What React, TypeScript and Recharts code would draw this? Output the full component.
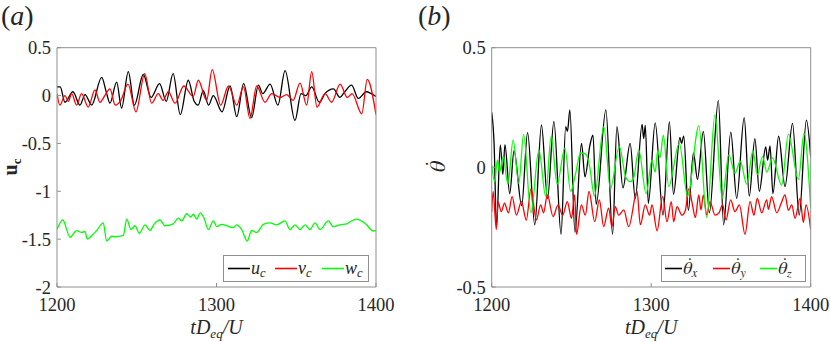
import { LineChart, Line, XAxis, YAxis } from "recharts";

// time axis (t D_eq / U)
const timeTicks = [1200, 1300, 1400];

// panel (a): centroid velocity components, [t, value] read at peaks/troughs
const uC: [number, number][] = [
  [1200, 0.09], [1202, 0.09], [1205, -0.07], [1210, 0.04], [1214.4, -0.1], [1217.6, 0.01], [1221.7, -0.1],
  [1228, 0.19], [1231, 0.03], [1233.2, -0.08], [1237.4, 0.14], [1240.5, -0.13], [1244.7, 0.25], [1248.5, -0.1],
  [1254.1, 0.22], [1259, -0.02], [1264.3, 0.125], [1268.5, -0.06], [1272.8, 0.23], [1277.3, -0.2], [1282.3, 0.16],
  [1286, -0.06], [1288.5, -0.1], [1291.7, 0.05], [1295, -0.1], [1298, 0], [1303.5, -0.17], [1308.5, 0.1],
  [1312.7, -0.22], [1317, 0.125], [1322, -0.23], [1326.3, 0.11], [1329, 0.02], [1333.6, 0.12], [1338.5, -0.1],
  [1343, 0.26], [1349.2, -0.26], [1353, 0.02], [1356, 0], [1359.7, 0.09], [1364.5, -0.07], [1368, 0.02],
  [1373.3, 0.07], [1377.4, -0.02], [1380, 0.03], [1384.7, 0.11], [1388.9, -0.03], [1394, 0.04], [1397, 0.02],
  [1400, -0.01],
];
const vC: [number, number][] = [
  [1200, 0.02], [1201.8, -0.1], [1205, 0], [1207.1, -0.06], [1209.2, 0.02], [1212.3, -0.1], [1215.4, 0.02],
  [1219.6, -0.12], [1223.8, 0.06], [1226.9, -0.07], [1230, 0], [1233.2, 0.07], [1236.5, -0.1], [1240, -0.05],
  [1244.5, 0.12], [1249.5, -0.17], [1255, 0.23], [1259.3, -0.08], [1263.5, 0.02], [1266.5, -0.05], [1269.8, 0.04],
  [1274, -0.08], [1279.5, 0.1], [1285.4, -0.01], [1288.6, 0.16], [1293.8, -0.05], [1297.3, 0.27], [1302.6, -0.1],
  [1307.5, 0.1], [1312.7, -0.1], [1316.9, 0.09], [1321, -0.24], [1325.2, 0.1], [1330.4, -0.07], [1334.6, 0.02],
  [1339.9, -0.02], [1344, 0.01], [1348, -0.05], [1352.4, 0.13], [1356.5, -0.1], [1359.7, 0.25], [1363, -0.12],
  [1368.1, 0.02], [1372.2, -0.07], [1377.5, 0.12], [1382, -0.02], [1385, 0.02], [1391.1, -0.19], [1394.5, 0.17],
  [1400, -0.2],
];
const wC: [number, number][] = [
  [1200, -1.4], [1203.6, -1.3], [1208.2, -1.48], [1212.3, -1.41], [1215.5, -1.43], [1217.6, -1.42], [1219, -1.5],
  [1221.7, -1.465], [1224.9, -1.41], [1229, -1.33], [1231.1, -1.52], [1234.3, -1.47], [1236.4, -1.475],
  [1241.6, -1.46], [1243.7, -1.29], [1246.4, -1.4], [1248.9, -1.36], [1251.6, -1.44], [1255.2, -1.35],
  [1258.3, -1.41], [1260.8, -1.345], [1264.6, -1.3], [1267.7, -1.36], [1272.9, -1.34], [1276.1, -1.28],
  [1278.2, -1.31], [1281.3, -1.235], [1283.8, -1.27], [1285.5, -1.24], [1287.6, -1.29], [1289.7, -1.225],
  [1292.2, -1.28], [1294.9, -1.4], [1298, -1.31], [1300.1, -1.37], [1303.2, -1.345], [1306.4, -1.36],
  [1310.6, -1.38], [1312.6, -1.35], [1315.8, -1.4], [1319.3, -1.52], [1322, -1.41], [1325.2, -1.43],
  [1329.4, -1.345], [1333.5, -1.33], [1337.7, -1.35], [1342.9, -1.31], [1346.1, -1.4], [1349.2, -1.35],
  [1352.4, -1.4], [1355.5, -1.35], [1358.6, -1.4], [1361.8, -1.33], [1364.9, -1.4], [1370.1, -1.31],
  [1373.3, -1.37], [1377.4, -1.35], [1381.6, -1.34], [1383.7, -1.32], [1387.9, -1.29], [1391, -1.31],
  [1394.1, -1.35], [1398.3, -1.415], [1400, -1.41],
];

// panel (b): angular velocity components
const thX: [number, number][] = [
  [1200, 0.23], [1201.5, 0.1], [1203, -0.25], [1205.4, 0.094], [1207, -0.03], [1208.3, 0.095], [1211.3, -0.11],
  [1214, 0.07], [1218.8, -0.16], [1222.5, 0.145], [1227, -0.24], [1231.2, 0.177], [1235, -0.13], [1239, 0.192],
  [1243.5, -0.28], [1246.4, 0.17], [1247.5, 0.15], [1249, 0.24], [1252.2, -0.272], [1256.3, 0.1], [1258.5, -0.04],
  [1261.5, 0.09], [1263.5, 0.135], [1265.5, -0.155], [1271.6, 0.24], [1275.8, -0.28], [1278.5, 0.17],
  [1282.3, -0.086], [1286.8, 0.1], [1290, -0.13], [1294.3, 0.18], [1295.3, 0.12], [1296.3, 0.175], [1298.2, -0.15],
  [1302.5, 0.186], [1307.4, -0.2], [1311.4, 0.19], [1314, -0.113], [1318, 0.125], [1319, 0.1], [1320.4, 0.13],
  [1323.3, -0.18], [1326.5, 0.06], [1329, -0.05], [1332.7, 0.15], [1336.5, -0.19], [1342.1, 0.28], [1345.4, -0.24],
  [1349.9, 0.147], [1353.6, -0.13], [1358.3, 0.208], [1361.5, -0.12], [1365, 0.12], [1367.8, -0.1], [1371.8, 0.085],
  [1373, 0.03], [1374.5, 0.09], [1376.3, -0.11], [1379.9, 0.13], [1383.9, -0.08], [1388.6, 0.184], [1392.8, -0.2],
  [1397.3, 0.197], [1400, 0.045],
];
const thY: [number, number][] = [
  [1200, -0.185], [1200.9, -0.1], [1202.9, -0.26], [1204, -0.145], [1206, -0.185], [1208, -0.15], [1210.5, -0.19],
  [1212.8, -0.122], [1215.5, -0.2], [1218.6, -0.143], [1221.7, -0.22], [1224.6, -0.09], [1228, -0.22],
  [1230.7, -0.157], [1232.5, -0.19], [1234.9, -0.115], [1238.5, -0.206], [1241.6, -0.157], [1244.5, -0.2],
  [1247.4, -0.143], [1250, -0.213], [1252, -0.115], [1253.2, -0.28], [1256.2, -0.157], [1258.7, -0.2],
  [1261, -0.1], [1264.6, -0.227], [1267.5, -0.136], [1270.2, -0.248], [1273.3, -0.17], [1275.4, -0.248],
  [1277.5, -0.164], [1279.6, -0.2], [1282.8, -0.178], [1285.9, -0.248], [1291.1, -0.1], [1293.2, -0.24],
  [1296.3, -0.157], [1299, -0.2], [1300.5, -0.157], [1303.7, -0.265], [1307.2, -0.122], [1309.9, -0.227],
  [1312.6, -0.143], [1314.1, -0.227], [1316.2, -0.164], [1319.3, -0.2], [1321.5, -0.178], [1323.5, -0.09],
  [1325.5, -0.143], [1327.7, -0.21], [1329.8, -0.115], [1331.2, -0.178], [1332.7, -0.115], [1334.8, -0.2],
  [1336.9, -0.143], [1340, -0.2], [1342.5, -0.19], [1344.8, -0.157], [1346.9, -0.22], [1349.8, -0.136],
  [1352.5, -0.185], [1355.3, -0.157], [1358.8, -0.28], [1362, -0.143], [1364.4, -0.2], [1366.5, -0.13],
  [1369.3, -0.19], [1372.4, -0.136], [1373.5, -0.175], [1375.5, -0.122], [1378.7, -0.19], [1381.5, -0.15],
  [1383.9, -0.115], [1386, -0.18], [1388.1, -0.157], [1390.2, -0.213], [1393.3, -0.13], [1395.4, -0.23],
  [1397.1, -0.157], [1400, -0.26],
];
const thZ: [number, number][] = [
  [1200, 0.01], [1201.9, -0.06], [1203.5, 0.03], [1205, -0.02], [1207.1, 0.045], [1210.2, -0.07], [1213.4, 0.114],
  [1217, -0.067], [1220, 0.138], [1224.6, -0.19], [1229.6, 0.073], [1233.8, -0.12], [1237.3, 0.13], [1241, -0.07],
  [1245.9, 0.08], [1249.5, -0.1], [1252.5, -0.03], [1255.6, 0.06], [1259, 0.055], [1261.5, 0], [1264.4, -0.12],
  [1270.3, 0.17], [1274.4, -0.09], [1280, 0.087], [1284, -0.04], [1287, -0.06], [1289, -0.045], [1292.2, 0.073],
  [1296.8, -0.11], [1300.5, 0.03], [1302.5, -0.02], [1304.1, 0.07], [1305.5, 0.04], [1307.6, 0.135], [1311, -0.08],
  [1317.6, 0.1], [1322.8, -0.12], [1329.9, 0.173], [1334.8, -0.21], [1340, 0.22], [1344.5, -0.13], [1348.7, 0.052],
  [1352.5, -0.025], [1355.8, 0.026], [1359.9, -0.07], [1363.8, 0.07], [1366.5, -0.03], [1369.8, 0.045],
  [1372.5, -0.02], [1376, 0.04], [1381.8, -0.075], [1386, 0.138], [1392.3, -0.05], [1395.8, 0.142], [1400, -0.17],
];

const ticksA = [0.5, 0, -0.5, -1, -1.5, -2];
const ticksB = [0.5, 0, -0.5];

const namesA = ["u", "v", "w"];
const subsA = ["c", "c", "c"];
const subsB = ["x", "y", "z"];
const colors = ["#000000", "#ff0000", "#00ff00"];

const FONT = "'Liberation Serif', 'Times New Roman', 'DejaVu Serif', serif";
const THETA_FONT = "'FreeSerif', 'Liberation Serif', serif";
const THETA_DOT = "\u03B8\u0307";
const FRAME = "#8f8f8f";
const INK = "#262626";

const rows = (pts: [number, number][]) => pts.map(([t, v]) => ({ t, v }));

type PanelProps = {
  left: number;
  yAxisW: number;
  marginRight: number;
  series: [number, number][][];
  domain: [number, number];
  ticks: number[];
};

function Panel({ left, yAxisW, marginRight, series, domain, ticks }: PanelProps) {
  const tickStyle = { style: { fontFamily: FONT }, fontSize: 18.5, fill: INK };
  return (
    <div style={{ position: "absolute", left, top: 0 }}>
      <LineChart width={415} height={342} margin={{ top: 46.7, right: marginRight, bottom: 0, left: 0 }}
        style={{ fontFamily: FONT }}>
        <XAxis xAxisId="b" dataKey="t" type="number" domain={[1200, 1400]} ticks={timeTicks} interval={0}
          allowDataOverflow height={55} tickSize={-4} tickMargin={15}
          axisLine={{ stroke: FRAME }} tickLine={{ stroke: FRAME }} tick={tickStyle} />
        <XAxis xAxisId="t" orientation="top" dataKey="t" type="number" domain={[1200, 1400]} ticks={timeTicks}
          interval={0} allowDataOverflow height={1} tickSize={-4} tick={false}
          axisLine={{ stroke: FRAME }} tickLine={{ stroke: FRAME }} />
        <YAxis yAxisId="l" type="number" domain={domain} ticks={ticks} interval={0} allowDataOverflow
          width={yAxisW} tickSize={-4} tickMargin={10}
          axisLine={{ stroke: FRAME }} tickLine={{ stroke: FRAME }} tick={tickStyle} />
        <YAxis yAxisId="r" orientation="right" type="number" domain={domain} ticks={ticks} interval={0}
          allowDataOverflow width={1} tickSize={-4} tick={false}
          axisLine={{ stroke: FRAME }} tickLine={{ stroke: FRAME }} />
        {series.map((pts, i) => (
          <Line key={i} xAxisId="b" yAxisId="l" data={rows(pts)} dataKey="v" type="monotone"
            stroke={colors[i]} strokeWidth={1.3} dot={false} activeDot={false} isAnimationActive={false} />
        ))}
      </LineChart>
    </div>
  );
}

type LegendProps = { x: number; y: number; w: number; h: number; theta: boolean; subs: string[]; starts: number[]; lineW: number };

function LegendBox({ x, y, w, h, theta, subs, starts, lineW }: LegendProps) {
  const cy = y + h / 2;
  return (
    <g>
      <rect x={x} y={y} width={w} height={h} fill="#ffffff" stroke={FRAME} strokeWidth={1} />
      {subs.map((s, i) => (
        <g key={i}>
          <line x1={starts[i]} x2={starts[i] + lineW} y1={cy} y2={cy} stroke={colors[i]} strokeWidth={1.6} />
          <text x={starts[i] + lineW + 1} y={cy + 5} style={{ fontFamily: theta ? THETA_FONT : FONT }}
            fontSize={18} fontStyle="italic" fill={INK}>
            {theta ? THETA_DOT : namesA[i]}
            <tspan fontSize={12.5} dy={3}>{s}</tspan>
          </text>
        </g>
      ))}
    </g>
  );
}

function XLabel({ x }: { x: number }) {
  return (
    <text x={x} y={334} textAnchor="middle" fontSize={20} fontStyle="italic">
      tD<tspan fontSize={13} dy={4}>eq</tspan><tspan dy={-4}>/U</tspan>
    </text>
  );
}

export default function App() {
  return (
    <div style={{ position: "absolute", left: 0, top: 0, width: 830, height: 342, background: "#fff" }}>
      <Panel left={0} yAxisW={57} marginRight={38} series={[uC, vC, wC]} domain={[-2, 0.5]} ticks={ticksA} />
      <Panel left={415} yAxisW={76.7} marginRight={18.3} series={[thX, thY, thZ]} domain={[-0.5, 0.5]} ticks={ticksB} />
      <svg width={830} height={342} style={{ position: "absolute", left: 0, top: 0, pointerEvents: "none", fontFamily: FONT }}>
        <g fill={INK}>
          <text x={1} y={25} fontSize={28}>(<tspan fontStyle="italic">a</tspan>)</text>
          <text x={418} y={25} fontSize={28}>(<tspan fontStyle="italic">b</tspan>)</text>

          <text transform="translate(17,167) rotate(-90)" textAnchor="middle" fontSize={20} fontWeight="bold">
            u<tspan fontSize={13} dy={4}>c</tspan>
          </text>
          <text transform="translate(445,167) rotate(-90)" textAnchor="middle" fontSize={22} fontStyle="italic"
            style={{ fontFamily: THETA_FONT }}>
            {THETA_DOT}
          </text>

          <XLabel x={216.5} />
          <XLabel x={651.2} />
        </g>
        <LegendBox x={223.5} y={255.5} w={145} h={26} theta={false} subs={subsA} starts={[228, 275, 322]} lineW={22} />
        <LegendBox x={661.5} y={255.5} w={144} h={26} theta={true} subs={subsB} starts={[665, 713, 760]} lineW={17} />
      </svg>
    </div>
  );
}
